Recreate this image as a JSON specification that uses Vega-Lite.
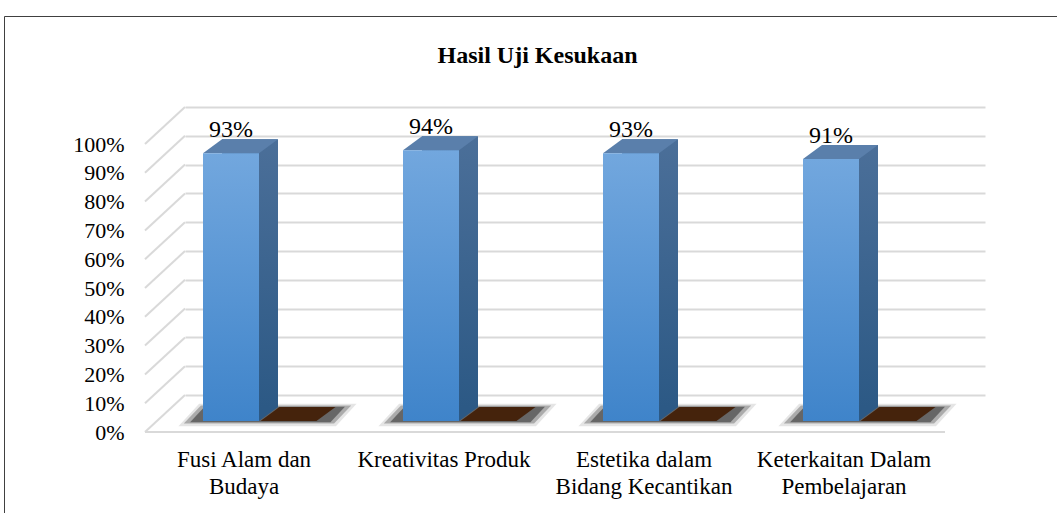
{
  "$schema": "https://vega.github.io/schema/vega-lite/v6.json",
  "autosize": {"type": "none"},
  "padding": {"left": 4, "top": 16, "right": 0, "bottom": 0},
  "width": 1053,
  "height": 497,
  "background": "white",
  "config": {"view": {"stroke": "#404040", "strokeWidth": 1}, "font": "Liberation Serif"},
  "title": {"text": "Hasil Uji Kesukaan", "font": "Liberation Serif", "fontSize": 24, "fontWeight": "bold", "color": "black", "anchor": "middle", "frame": "group", "offset": -52, "dx": 7},
  "datasets": {
    "bars": [
      {"kategori": "Fusi Alam dan Budaya", "nilai": 0.93, "seri2": 0},
      {"kategori": "Kreativitas Produk", "nilai": 0.94, "seri2": 0},
      {"kategori": "Estetika dalam Bidang Kecantikan", "nilai": 0.93, "seri2": 0},
      {"kategori": "Keterkaitan Dalam Pembelajaran", "nilai": 0.91, "seri2": 0}
    ],
    "gridlines": [
      {"t": 0}, {"t": 0.1}, {"t": 0.2}, {"t": 0.3}, {"t": 0.4}, {"t": 0.5},
      {"t": 0.6}, {"t": 0.7}, {"t": 0.8}, {"t": 0.9}, {"t": 1}
    ]
  },
  "layer": [
    {
      "data": {"name": "bars"},
      "mark": {"type": "bar", "width": 56, "xOffset": -54, "x2Offset": -54, "yOffset": 26, "y2Offset": 26, "opacity": 0},
      "encoding": {
        "x": {
          "field": "kategori", "type": "nominal", "sort": null,
          "scale": {"domain": ["Fusi Alam dan Budaya", "Kreativitas Produk", "Estetika dalam Bidang Kecantikan", "Keterkaitan Dalam Pembelajaran"], "range": [181, 981], "paddingInner": 0, "paddingOuter": 0},
          "axis": {
            "title": null, "domain": false, "ticks": false, "grid": false, "labelAngle": 0,
            "labelFont": "Liberation Serif", "labelFontSize": 23, "labelColor": "black",
            "labelBaseline": "top", "labelLineHeight": 27, "labelPadding": 0, "offset": -65, "labelOffset": -41, "labelLimit": 0,
            "labelExpr": "datum.value == 'Fusi Alam dan Budaya' ? ['Fusi Alam dan', 'Budaya'] : datum.value == 'Estetika dalam Bidang Kecantikan' ? ['Estetika dalam', 'Bidang Kecantikan'] : datum.value == 'Keterkaitan Dalam Pembelajaran' ? ['Keterkaitan Dalam', 'Pembelajaran'] : datum.value"
          }
        },
        "y": {
          "field": "nilai", "type": "quantitative",
          "scale": {"domain": [0, 1], "range": [379, 91], "nice": false},
          "axis": {
            "title": null, "domain": false, "ticks": false, "grid": true, "gridColor": "#d9d9d9", "gridWidth": 2,
            "values": [0, 0.1, 0.2, 0.3, 0.4, 0.5, 0.6, 0.7, 0.8, 0.9, 1], "format": ".0%",
            "labelFont": "Liberation Serif", "labelFontSize": 22, "labelColor": "black",
            "labelPadding": 0, "offset": -120, "labelOffset": 37, "labelAlign": "right", "labelBaseline": "middle"
          }
        },
        "y2": {"datum": 0}
      }
    },
    {
      "data": {"name": "gridlines"},
      "mark": {"type": "point", "shape": "M -1 0.925 L 1 -0.925", "size": 1600, "filled": false, "stroke": "#d9d9d9", "strokeWidth": 2, "opacity": 1, "xOffset": -120, "yOffset": 18.5},
      "encoding": {
        "x": {"datum": "Fusi Alam dan Budaya", "type": "nominal"},
        "y": {"field": "t", "type": "quantitative"}
      }
    },
    {
      "data": {"values": [{"garis": "lantai"}]},
      "mark": {"type": "point", "shape": "M -1 0 L 1 0", "size": 640000, "filled": false, "stroke": "#d9d9d9", "strokeWidth": 2, "opacity": 1, "xOffset": 260, "yOffset": 37},
      "encoding": {
        "x": {"datum": "Fusi Alam dan Budaya", "type": "nominal"},
        "y": {"datum": 0, "type": "quantitative"}
      }
    },
    {
      "data": {"name": "bars"},
      "mark": {"type": "point", "shape": "M -0.99 0.125 L 0.76 0.125 L 0.99 -0.125 L -0.76 -0.125 Z", "size": 32400, "filled": true, "fill": "black", "fillOpacity": 0.1, "strokeWidth": 0, "xOffset": -17.5, "yOffset": 20},
      "encoding": {
        "x": {"field": "kategori", "type": "nominal"},
        "y": {"field": "seri2", "type": "quantitative"}
      }
    },
    {
      "data": {"name": "bars"},
      "mark": {"type": "point", "shape": "M -0.93 0.1 L 0.74 0.1 L 0.93 -0.1 L -0.74 -0.1 Z", "size": 32400, "filled": true, "fill": "black", "fillOpacity": 0.25, "strokeWidth": 0, "xOffset": -17.5, "yOffset": 19.5},
      "encoding": {
        "x": {"field": "kategori", "type": "nominal"},
        "y": {"field": "seri2", "type": "quantitative"}
      }
    },
    {
      "data": {"name": "bars"},
      "mark": {"type": "point", "shape": "M -0.86 0.085 L 0.7 0.085 L 0.86 -0.085 L -0.7 -0.085 Z", "size": 32400, "filled": true, "fill": "black", "fillOpacity": 0.4, "strokeWidth": 0, "xOffset": -17.5, "yOffset": 19.5},
      "encoding": {
        "x": {"field": "kategori", "type": "nominal"},
        "y": {"field": "seri2", "type": "quantitative"}
      }
    },
    {
      "data": {"name": "bars"},
      "mark": {"type": "point", "shape": "M -1 0.1867 L 0.493 0.1867 L 1 -0.1867 L -0.493 -0.1867 Z", "size": 5625, "filled": true, "fill": "#45230c", "opacity": 1, "strokeWidth": 0, "xOffset": 13, "yOffset": 19},
      "encoding": {
        "x": {"field": "kategori", "type": "nominal"},
        "y": {"field": "seri2", "type": "quantitative"}
      }
    },
    {
      "data": {"name": "bars"},
      "mark": {"type": "bar", "width": 56, "xOffset": -35, "x2Offset": -35, "yOffset": 12, "y2Offset": 12,
        "color": {"gradient": "linear", "x1": 0, "y1": 0, "x2": 0, "y2": 1, "stops": [{"offset": 0, "color": "#4b6f99"}, {"offset": 1, "color": "#2c5985"}]}},
      "encoding": {
        "x": {"field": "kategori", "type": "nominal"},
        "y": {"field": "nilai", "type": "quantitative"},
        "y2": {"datum": 0}
      }
    },
    {
      "data": {"name": "bars"},
      "mark": {"type": "point", "shape": "M -0.95 -0.7 L 0.95 -0.7 L -0.95 0.7 Z", "size": 400, "filled": true, "fill": "#2c5985", "opacity": 1, "strokeWidth": 0, "xOffset": -16.5, "yOffset": 19},
      "encoding": {
        "x": {"field": "kategori", "type": "nominal"},
        "y": {"field": "seri2", "type": "quantitative"}
      }
    },
    {
      "data": {"name": "bars"},
      "mark": {"type": "point", "shape": "M -1 0.1867 L 0.493 0.1867 L 1 -0.1867 L -0.493 -0.1867 Z", "size": 5625, "filled": true, "fill": "#5a7fab", "opacity": 1, "strokeWidth": 0, "xOffset": -44.5, "yOffset": 19},
      "encoding": {
        "x": {"field": "kategori", "type": "nominal"},
        "y": {"field": "nilai", "type": "quantitative"}
      }
    },
    {
      "data": {"name": "bars"},
      "mark": {"type": "bar", "width": 56, "xOffset": -54, "x2Offset": -54, "yOffset": 26, "y2Offset": 26,
        "color": {"gradient": "linear", "x1": 0, "y1": 0, "x2": 0, "y2": 1, "stops": [{"offset": 0, "color": "#72a7de"}, {"offset": 1, "color": "#3f84ca"}]}},
      "encoding": {
        "x": {"field": "kategori", "type": "nominal"},
        "y": {"field": "nilai", "type": "quantitative"},
        "y2": {"datum": 0}
      }
    },
    {
      "data": {"name": "bars"},
      "mark": {"type": "text", "font": "Liberation Serif", "fontSize": 24, "color": "black", "align": "center", "baseline": "alphabetic", "xOffset": -54, "yOffset": 10},
      "encoding": {
        "x": {"field": "kategori", "type": "nominal"},
        "y": {"field": "nilai", "type": "quantitative"},
        "text": {"field": "nilai", "type": "quantitative", "format": ".0%"}
      }
    }
  ]
}
